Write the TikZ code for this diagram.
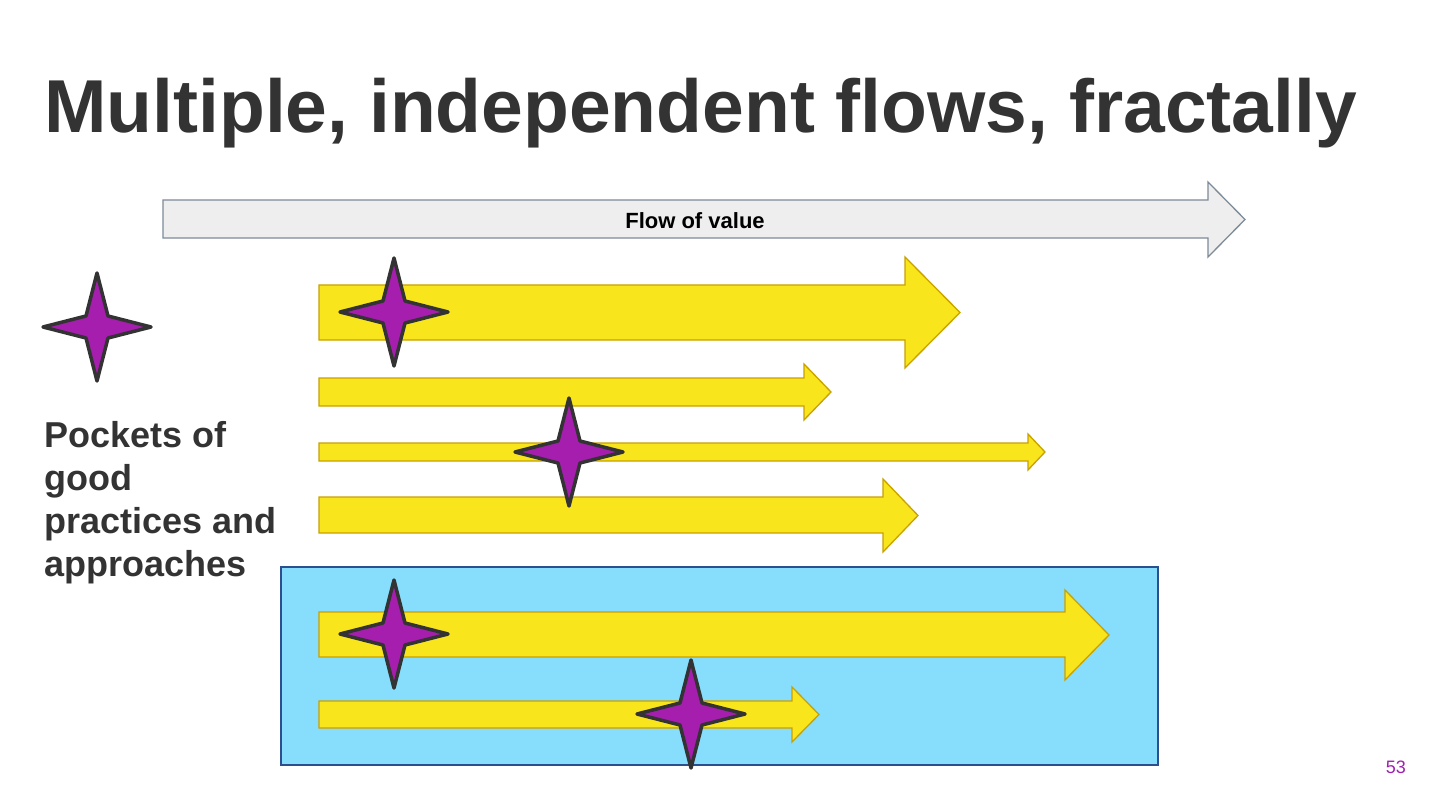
\documentclass[tikz,border=0pt]{standalone}
\usepackage{fontspec}
\setmainfont{Liberation Sans}
\definecolor{txt}{HTML}{333333}
\definecolor{yfill}{HTML}{F8E51C}
\definecolor{ydraw}{HTML}{C9A100}
\definecolor{gfill}{HTML}{EEEEEE}
\definecolor{gdraw}{HTML}{7D8B99}
\definecolor{bfill}{HTML}{86DDFC}
\definecolor{bdraw}{HTML}{2B4F8F}
\definecolor{sfill}{HTML}{A61EAE}
\definecolor{pnum}{HTML}{A020B0}
\tikzset{
  yarrow/.style={fill=yfill,draw=ydraw,line width=1.3pt,line join=miter},
  garrow/.style={fill=gfill,draw=gdraw,line width=1.3pt,line join=miter},
  sparkle/.style={fill=sfill,draw=txt,line width=3.5pt,line join=round},
  pocket/.style={fill=bfill,draw=bdraw,line width=1.3pt}
}
% #1 style, #2 left x, #3 body top, #4 body bottom, #5 head x, #6 head top, #7 head bottom, #8 tip x
\newcommand\flowarrow[8]{%
  \draw[#1] (#2,#3) -- (#5,#3) -- (#5,#6) -- (#8,{(#6+#7)/2}) -- (#5,#7) -- (#5,#4) -- (#2,#4) -- cycle;}
\newcommand\sparklestar[2]{%
  \draw[sparkle,shift={(#1,#2)}] (0,-54) -- (11,-11) -- (54,0) -- (11,11) -- (0,54) -- (-11,11) -- (-54,0) -- (-11,-11) -- cycle;}
\begin{document}
\begin{tikzpicture}[x=1pt,y=-1pt]
\useasboundingbox[fill=white] (0,0) rectangle (1440,810);
% title
\node[anchor=base west,inner sep=0,text=txt,font=\fontsize{75}{80}\selectfont\bfseries] (title) at (44,133) {Multiple, independent flows, fractally};
% flow of value
\flowarrow{garrow}{163}{200}{238}{1208}{182}{257}{1245}
\node[font=\fontsize{22}{24}\selectfont\bfseries,text=black] (flow) at (695,221) {Flow of value};
% blue pocket
\draw[pocket] (281,567) rectangle (1158,765);
\coordinate (pocket) at (719,666);
% yellow arrows
\flowarrow{yarrow}{319}{285}{340}{905}{257}{368}{960}
\flowarrow{yarrow}{319}{378}{406}{804}{364}{420}{831}
\flowarrow{yarrow}{319}{443}{461}{1028}{434}{470}{1045}
\flowarrow{yarrow}{319}{497}{533}{883}{479}{552}{918}
\flowarrow{yarrow}{319}{612}{657}{1065}{590}{680}{1109}
\flowarrow{yarrow}{319}{701}{728}{792}{687}{742}{819}
% stars
\sparklestar{97}{327}
\sparklestar{394}{312}
\sparklestar{569}{452}
\sparklestar{394}{634}
\sparklestar{691}{714}
% left text (anchor on the baseline of the last line)
\node[anchor=base west,inner sep=0,text=txt,align=left,font=\fontsize{36}{43}\selectfont\bfseries] (pockets) at (44,576) {Pockets of\\good\\practices and\\approaches};
% page number
\node[anchor=base east,inner sep=0,text=pnum,font=\fontsize{18}{20}\selectfont] (page) at (1406,773) {53};
\end{tikzpicture}
\end{document}
